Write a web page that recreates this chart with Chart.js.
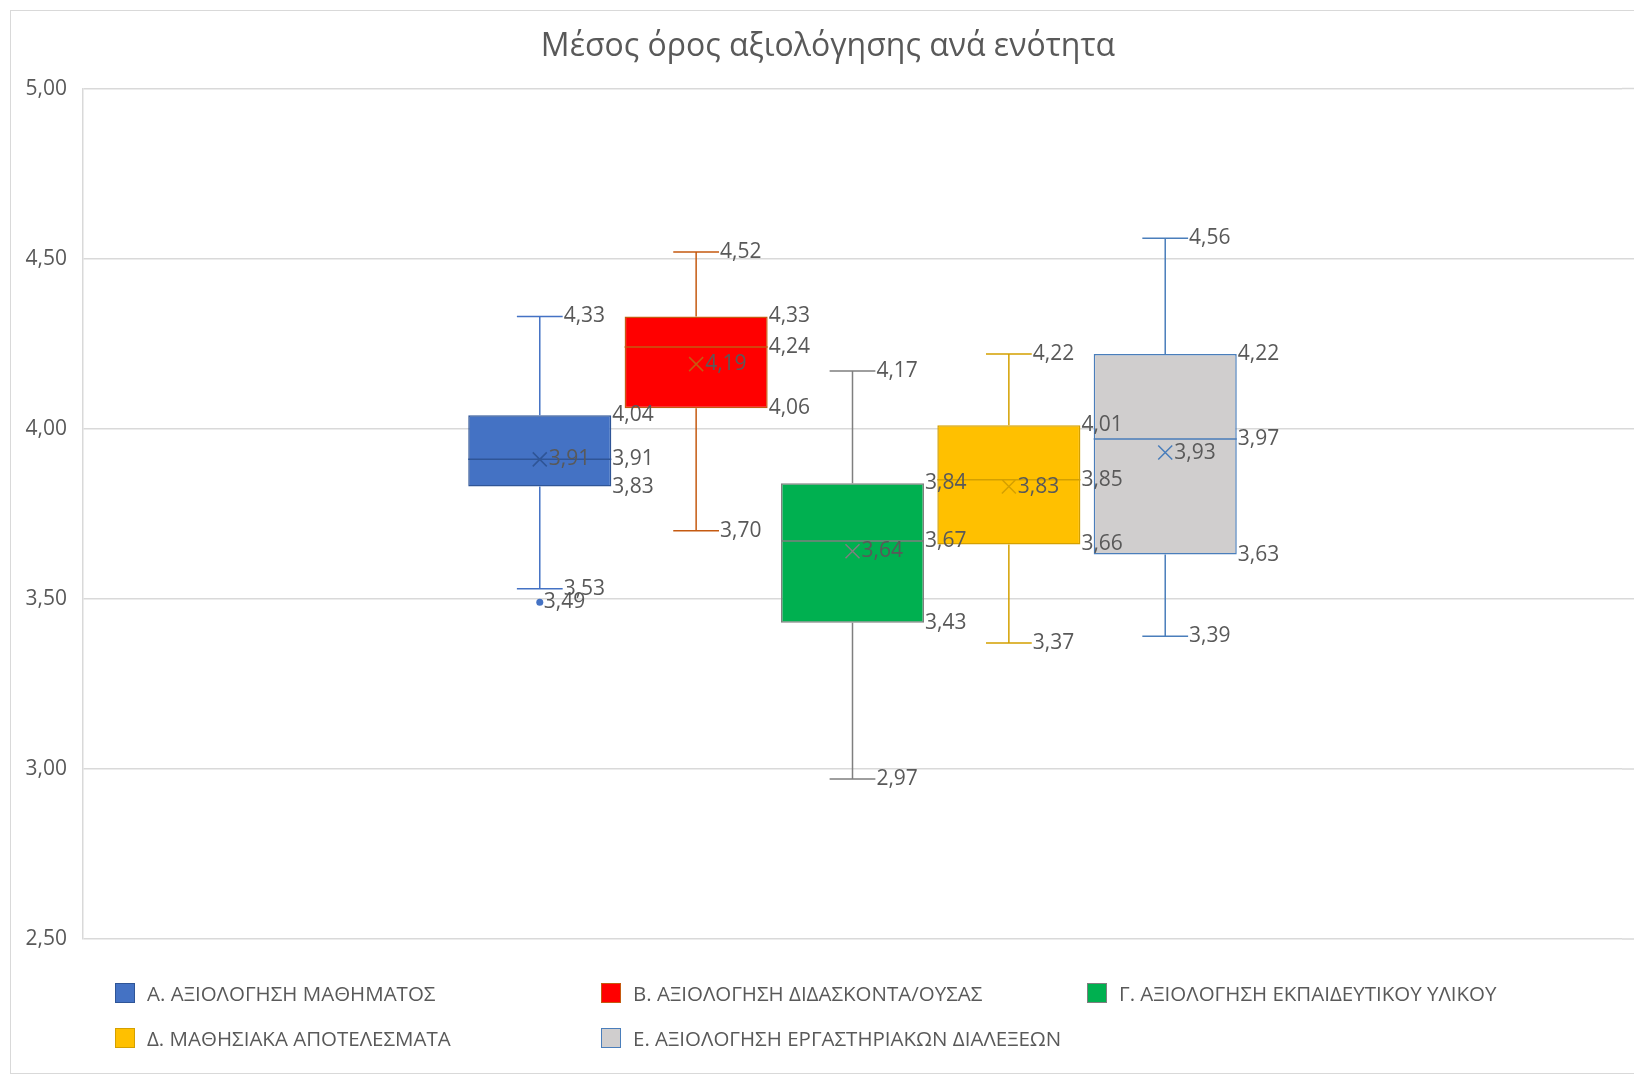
<!DOCTYPE html>
<html>
<head>
<meta charset="utf-8">
<script src="https://cdn.jsdelivr.net/npm/chart.js@4.4.0/dist/chart.umd.min.js"></script>
<style>
  body { margin: 0; background: #fff; font-family: "Open Sans", sans-serif; overflow: hidden; }
  #frame { position: absolute; left: 10px; top: 10px; width: 1660px; height: 1062px; border: 1px solid #d9d9d9; }
  #wrap { position: absolute; left: 0; top: 0; width: 1634px; height: 1076px; }
  #title { position: absolute; left: 528px; width: 600px; top: 22px; text-align: center; font-size: 32px; color: #595959; white-space: nowrap; }
  .leg { position: absolute; display: flex; align-items: center; font-size: 20.5px; color: #595959; white-space: nowrap; }
  .leg span.sw { display: inline-block; width: 20px; height: 20px; margin-right: 12px; box-sizing: border-box; border: 1.5px solid; }
</style>
</head>
<body>
<div id="frame"></div>
<div id="wrap"><canvas id="chart"></canvas></div>
<div id="title">Μέσος όρος αξιολόγησης ανά ενότητα</div>
<div id="legend"></div>
<script>
const series = ['Α. ΑΞΙΟΛΟΓΗΣΗ ΜΑΘΗΜΑΤΟΣ', 'Β. ΑΞΙΟΛΟΓΗΣΗ ΔΙΔΑΣΚΟΝΤΑ/ΟΥΣΑΣ', 'Γ. ΑΞΙΟΛΟΓΗΣΗ ΕΚΠΑΙΔΕΥΤΙΚΟΥ ΥΛΙΚΟΥ',
  'Δ. ΜΑΘΗΣΙΑΚΑ ΑΠΟΤΕΛΕΣΜΑΤΑ', 'Ε. ΑΞΙΟΛΟΓΗΣΗ ΕΡΓΑΣΤΗΡΙΑΚΩΝ ΔΙΑΛΕΞΕΩΝ'];
const mins    = [3.53, 3.70, 2.97, 3.37, 3.39];
const q1s     = [3.83, 4.06, 3.43, 3.66, 3.63];
const medians = [3.91, 4.24, 3.67, 3.85, 3.97];
const q3s     = [4.04, 4.33, 3.84, 4.01, 4.22];
const maxs    = [4.33, 4.52, 4.17, 4.22, 4.56];
const means   = [3.91, 4.19, 3.64, 3.83, 3.93];
const outliers = [[3.49], [], [], [], []];
const yTicks = [2.5, 3.0, 3.5, 4.0, 4.5, 5.0];

const fills = ['#4472C4', '#FF0000', '#00B050', '#FFC000', '#D0CECE'];
const edges = ['#2F5597', '#C55A11', '#7F7F7F', '#D4A000', '#4A7EBB'];
const whisk = ['#4472C4', '#C55A11', '#7F7F7F', '#D4A000', '#4A7EBB'];

const fmt = v => v.toFixed(2).replace('.', ',');

// plot area in the original runs past the right edge of the picture
const gridRun = {
  id: 'gridRun',
  beforeDatasetsDraw(chart) {
    const ctx = chart.ctx, y = chart.scales.y, a = chart.chartArea;
    ctx.save();
    ctx.strokeStyle = '#D9D9D9';
    ctx.lineWidth = 1.5;
    ctx.beginPath();
    y.ticks.forEach(t => {
      const py = y.getPixelForValue(t.value);
      ctx.moveTo(a.right, py); ctx.lineTo(chart.width, py);
    });
    ctx.stroke();
    ctx.restore();
  }
};

const boxExtras = {
  id: 'boxExtras',
  afterDatasetsDraw(chart) {
    const ctx = chart.ctx;
    const y = chart.scales.y;
    ctx.save();
    // whiskers, median, mean marker, outliers
    chart.data.datasets.forEach((ds, i) => {
      const bar = chart.getDatasetMeta(i).data[0];
      const cx = bar.x, half = bar.width / 2, cap = bar.width * 0.16;
      const yMax = y.getPixelForValue(maxs[i]), yMin = y.getPixelForValue(mins[i]);
      ctx.strokeStyle = whisk[i];
      ctx.lineWidth = 1.5;
      ctx.beginPath();
      ctx.moveTo(cx, yMax); ctx.lineTo(cx, y.getPixelForValue(q3s[i]));
      ctx.moveTo(cx, y.getPixelForValue(q1s[i])); ctx.lineTo(cx, yMin);
      ctx.moveTo(cx - cap, yMax); ctx.lineTo(cx + cap, yMax);
      ctx.moveTo(cx - cap, yMin); ctx.lineTo(cx + cap, yMin);
      ctx.stroke();
      ctx.strokeStyle = edges[i];
      ctx.beginPath();
      const yMed = y.getPixelForValue(medians[i]);
      ctx.moveTo(cx - half, yMed); ctx.lineTo(cx + half, yMed);
      const yMean = y.getPixelForValue(means[i]);
      ctx.moveTo(cx - 7, yMean - 7); ctx.lineTo(cx + 7, yMean + 7);
      ctx.moveTo(cx + 7, yMean - 7); ctx.lineTo(cx - 7, yMean + 7);
      ctx.stroke();
      ctx.fillStyle = whisk[i];
      outliers[i].forEach(o => {
        ctx.beginPath();
        ctx.arc(cx, y.getPixelForValue(o), 3.5, 0, Math.PI * 2);
        ctx.fill();
      });
    });
    // data labels on top of everything
    ctx.font = '21px "Open Sans"';
    ctx.fillStyle = '#595959';
    ctx.textBaseline = 'middle';
    ctx.textAlign = 'left';
    chart.data.datasets.forEach((ds, i) => {
      const bar = chart.getDatasetMeta(i).data[0];
      const cx = bar.x, half = bar.width / 2, cap = bar.width * 0.16;
      [maxs[i], mins[i]].forEach(v => ctx.fillText(fmt(v), cx + cap + 1, y.getPixelForValue(v)));
      [q3s[i], medians[i], q1s[i]].forEach(v => ctx.fillText(fmt(v), cx + half + 1, y.getPixelForValue(v)));
      ctx.fillText(fmt(means[i]), cx + 9, y.getPixelForValue(means[i]));
      outliers[i].forEach(o => ctx.fillText(fmt(o), cx + 4, y.getPixelForValue(o)));
    });
    ctx.restore();
  }
};

new Chart(document.getElementById('chart'), {
  type: 'bar',
  data: {
    labels: [''],
    datasets: series.map((name, i) => ({
      label: name,
      data: [[q1s[i], q3s[i]]],
      backgroundColor: fills[i],
      borderColor: edges[i],
      borderWidth: 1.5,
      borderSkipped: false
    }))
  },
  options: {
    responsive: true,
    maintainAspectRatio: false,
    animation: false,
    categoryPercentage: 0.508,
    barPercentage: 0.915,
    layout: { padding: { top: 88.6, right: 12, bottom: 137, left: 0 } },
    plugins: {
      legend: { display: false },
      tooltip: { enabled: false },
      title: { display: false }
    },
    scales: {
      x: { display: false },
      y: {
        min: 2.5,
        max: 5,
        afterFit: s => { s.width = 83; },
        afterBuildTicks: s => { s.ticks = yTicks.map(v => ({ value: v })); },
        ticks: { callback: v => fmt(v), color: '#595959', padding: 16, font: { family: '"Open Sans"', size: 21 } },
        grid: { color: '#D9D9D9', lineWidth: 1.5, drawTicks: false },
        border: { display: true, color: '#D9D9D9', width: 1.5 }
      }
    }
  },
  plugins: [gridRun, boxExtras]
});

// legend in fixed columns, as in the original
const legPos = [[115, 993], [601, 993], [1087, 993], [115, 1038], [601, 1038]];
const legend = document.getElementById('legend');
series.forEach((name, i) => {
  const d = document.createElement('div');
  d.className = 'leg';
  d.style.left = legPos[i][0] + 'px';
  d.style.top = (legPos[i][1] - 14) + 'px';
  d.style.height = '28px';
  d.innerHTML = `<span class="sw" style="background:${fills[i]};border-color:${edges[i]}"></span>${name}`;
  legend.appendChild(d);
});
</script>
</body>
</html>
